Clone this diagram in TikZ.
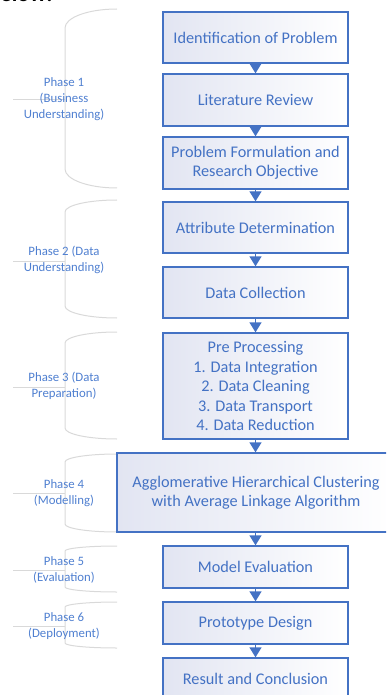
\documentclass[tikz,border=0pt]{standalone}
\usepackage{fontspec}
\setmainfont{Carlito}
\usetikzlibrary{arrows.meta}
\definecolor{accent}{HTML}{4472C4}
\definecolor{phasetext}{HTML}{4F7FD0}
\definecolor{bracketgray}{HTML}{D9D9D9}
\definecolor{boxshade}{HTML}{E2E5F2}

\begin{document}
\begin{tikzpicture}[x=0.75pt,y=-0.75pt,
  stepbox/.style={draw=accent, line width=1pt, left color=boxshade, right color=white,
    text=accent, font=\fontsize{12.2}{14.6}\selectfont, align=center,
    inner sep=0pt, minimum width=138.75pt},
  phaselabel/.style={text=phasetext, font=\fontsize{9.6}{12}\selectfont,
    align=center, inner sep=0pt},
  bracket/.style={draw=bracketgray, line width=0.75pt},
  flow/.style={draw=accent, line width=1pt, -{Triangle[width=9pt,length=7.5pt]}}]

% page area
\useasboundingbox (0,0) rectangle (386,695);
\clip (0,0) rectangle (386,695);

% heading running off the top edge
\node[anchor=base west, inner sep=0pt, font=\bfseries\fontsize{17}{17}\selectfont]
  (head) at (-12,1.5) {below:};

% phase brackets: top, bottom, middle, curl depth
\foreach \t/\b/\m/\d in {9/188/100/19, 200/318/261/12, 332/439/387/11,
                         454/532/493/8, 546/592/570/5, 602/648/626/5}{
  \path[bracket] (117,\t) .. controls (88,\t) and (65,\t+0.45*\d) .. (65,\t+\d)
     -- (65,\b-\d) .. controls (65,\b-0.45*\d) and (88,\b) .. (117,\b);
  \path[bracket] (13,\m) -- (65,\m);
}

% phase labels
\node[phaselabel] (p1) at (64,99)   {Phase 1\\(Business\\Understanding)};
\node[phaselabel] (p2) at (64,259.5){Phase 2 (Data\\Understanding)};
\node[phaselabel] (p3) at (64,385.5){Phase 3 (Data\\Preparation)};
\node[phaselabel] (p4) at (64,493.5){Phase 4\\(Modelling)};
\node[phaselabel] (p5) at (64,570)  {Phase 5\\(Evaluation)};
\node[phaselabel] (p6) at (64,626)  {Phase 6\\(Deployment)};

% process steps
\node[stepbox, minimum height=38.25pt] (b1) at (255.5,37.5) {Identification of Problem};
\node[stepbox, minimum height=39pt]    (b2) at (255.5,100)  {Literature Review};
\node[stepbox, minimum height=39pt]    (b3) at (255.5,163)  {Problem Formulation and\\Research Objective};
\node[stepbox, minimum height=38.25pt] (b4) at (255.5,227.5){Attribute Determination};
\node[stepbox, minimum height=38.25pt] (b5) at (255.5,292.5){Data Collection};
\node[stepbox, minimum height=79.5pt]  (b6) at (255.5,386)  {Pre Processing\\1. Data Integration\\2. Data Cleaning\\3. Data Transport\\4. Data Reduction};
\node[stepbox, minimum height=59.25pt, minimum width=208.5pt] (b7) at (256,492.5)
  {Agglomerative Hierarchical Clustering\\with Average Linkage Algorithm};
\node[stepbox, minimum height=31.5pt]  (b8) at (255.5,567)  {Model Evaluation};
\node[stepbox, minimum height=31.5pt]  (b9) at (255.5,623)  {Prototype Design};
\node[stepbox, minimum height=31.5pt]  (b10) at (255.5,679) {Result and Conclusion};

% connectors
\draw[flow] (b1) -- (b2);
\draw[flow] (b2) -- (b3);
\draw[flow] (b3) -- (b4);
\draw[flow] (b4) -- (b5);
\draw[flow] (b5) -- (b6);
\draw[flow] (b6.south) -- (b6.south |- b7.north);
\draw[flow] (b7.south -| b8.north) -- (b8.north);
\draw[flow] (b8) -- (b9);
\draw[flow] (b9) -- (b10);
\end{tikzpicture}
\end{document}
